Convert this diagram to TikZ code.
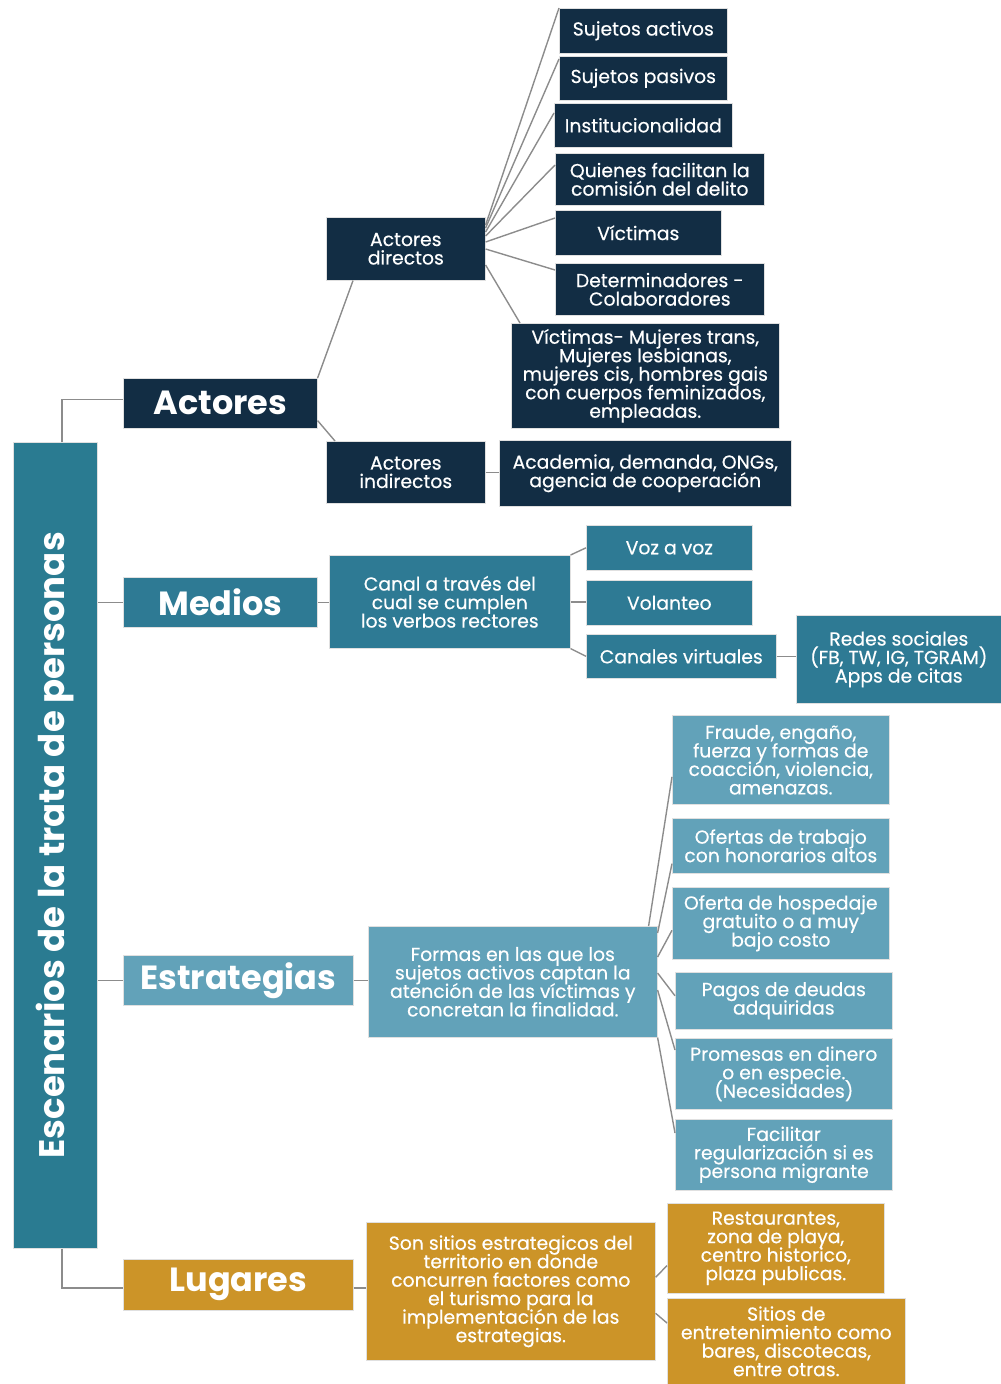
\documentclass[tikz,border=0pt]{standalone}
\usepackage{fontspec}
\setmainfont{Poppins}
\newfontfamily\medfont{Poppins}[FakeBold=0.4]
\usetikzlibrary{calc}
\definecolor{navy}{HTML}{122D44}
\definecolor{tealbar}{HTML}{2A7B91}
\definecolor{tealm}{HTML}{2E7A94}
\definecolor{lteal}{HTML}{62A2B9}
\definecolor{gold}{HTML}{CC9428}
\definecolor{lnc}{HTML}{8C8C8C}
\newcommand{\fsn}{\medfont\fontsize{18.8}{18.5}\selectfont\lineskiplimit=-30pt\lineskip=0pt}
\newcommand{\fsb}{\fontsize{33.5}{36}\selectfont\bfseries}
\begin{document}
\begin{tikzpicture}[x=1pt,y=-1pt,
  bx/.style={fill=#1, draw=black!12, line width=0.6pt, inner sep=0pt, anchor=north west, align=center, text=white, font=\fsn},
  big/.style={bx=#1, font=\fsb},
  ln/.style={draw=lnc, line width=1.4pt}]
\useasboundingbox (0,0) rectangle (1001,1384);

% main bar
\node[bx=tealbar, minimum width=84, minimum height=806] (bar) at (13,442) {};
\node[rotate=90, text=white, font=\fontsize{35.5}{38}\selectfont\bfseries, inner sep=0pt] (title) at (bar.center) {Escenarios de la trata de personas};

% Actores
\node[big=navy, minimum width=194, minimum height=50] (act) at (123,378) {Actores};
\node[bx=navy, minimum width=159, minimum height=63] (dir) at (326,217) {Actores\\directos};
\node[bx=navy, minimum width=159, minimum height=62] (ind) at (326,441) {Actores\\indirectos};
\node[bx=navy, minimum width=168, minimum height=45] (s1) at (559,8) {Sujetos activos};
\node[bx=navy, minimum width=168, minimum height=44] (s2) at (559,56) {Sujetos pasivos};
\node[bx=navy, minimum width=178, minimum height=44] (s3) at (554,103) {Institucionalidad};
\node[bx=navy, minimum width=209, minimum height=52] (s4) at (555,153) {Quienes facilitan la\\comisión del delito};
\node[bx=navy, minimum width=166, minimum height=45] (s5) at (555,210) {Víctimas};
\node[bx=navy, minimum width=209, minimum height=52] (s6) at (555,263) {Determinadores -\\Colaboradores};
\node[bx=navy, minimum width=268, minimum height=105] (s7) at (511,323) {Víctimas- Mujeres trans,\\Mujeres lesbianas,\\mujeres cis, hombres gais\\con cuerpos feminizados,\\empleadas.};
\node[bx=navy, minimum width=292, minimum height=66] (aca) at (499,440) {Academia, demanda, ONGs,\\agencia de cooperación};

\draw[ln] ($(bar.north west)+(49,0)$) |- ($(act.west)+(0,-4)$);
\draw[ln] (act.north east) -- ($(dir.south west)+(27,0)$);
\draw[ln] ($(act.south east)+(0,-8)$) -- ($(ind.north west)+(9,0)$);
\draw[ln] ($(dir.north east)+(0,8)$) -- (s1.north west);
\draw[ln] ($(dir.north east)+(0,11)$) -- ($(s2.north west)+(0,3)$);
\draw[ln] ($(dir.north east)+(0,15)$) -- ($(s3.north west)+(0,10)$);
\draw[ln] ($(dir.north east)+(0,19)$) -- ($(s4.north west)+(0,12)$);
\draw[ln] ($(dir.north east)+(0,25)$) -- ($(s5.north west)+(0,8)$);
\draw[ln] ($(dir.north east)+(0,32)$) -- ($(s6.north west)+(0,7)$);
\draw[ln] ($(dir.north east)+(0,48)$) -- ($(s7.north west)+(9,0)$);
\draw[ln] (ind.east) -- (ind.east -| aca.west);

% Medios
\node[big=tealm, minimum width=194, minimum height=50] (med) at (123,577) {Medios};
\node[bx=tealm, minimum width=241, minimum height=93] (canal) at (329,555) {Canal a través del\\cual se cumplen\\los verbos rectores};
\node[bx=tealm, minimum width=166, minimum height=45] (voz) at (586,525) {Voz a voz};
\node[bx=tealm, minimum width=166, minimum height=45] (vol) at (586,580) {Volanteo};
\node[bx=tealm, minimum width=190, minimum height=44] (cv) at (586,634) {Canales virtuales};
\node[bx=tealm, minimum width=205, minimum height=88] (red) at (796,615) {Redes sociales\\(FB, TW, IG, TGRAM)\\Apps de citas};

\draw[ln] (med.west -| bar.east) -- (med.west);
\draw[ln] (med.east) -- (med.east -| canal.west);
\draw[ln] (canal.north east) -- (voz.west);
\draw[ln] (canal.east) -- (canal.east -| vol.west);
\draw[ln] (canal.south east) -- (cv.west);
\draw[ln] (cv.east) -- (cv.east -| red.west);

% Estrategias
\node[big=lteal, minimum width=230, minimum height=50] (est) at (123,955) {Estrategias};
\node[bx=lteal, minimum width=289, minimum height=111] (formas) at (368,926) {Formas en las que los\\sujetos activos captan la\\atención de las víctimas y\\concretan la finalidad.};
\node[bx=lteal, minimum width=217, minimum height=89] (f1) at (672,715) {Fraude, engaño,\\fuerza y formas de\\coacción, violencia,\\amenazas.};
\node[bx=lteal, minimum width=217, minimum height=55] (f2) at (672,818) {Ofertas de trabajo\\con honorarios altos};
\node[bx=lteal, minimum width=217, minimum height=72] (f3) at (672,887) {Oferta de hospedaje\\gratuito o a muy\\bajo costo};
\node[bx=lteal, minimum width=217, minimum height=57] (f4) at (675,972) {Pagos de deudas\\adquiridas};
\node[bx=lteal, minimum width=217, minimum height=71] (f5) at (675,1038) {Promesas en dinero\\o en especie.\\(Necesidades)};
\node[bx=lteal, minimum width=217, minimum height=71] (f6) at (675,1119) {Facilitar\\regularización si es\\persona migrante};

\draw[ln] (est.west -| bar.east) -- (est.west);
\draw[ln] (est.east) -- (est.east -| formas.west);
\draw[ln] ($(formas.north east)+(-9,0)$) -- ($(f1.west)+(0,17)$);
\draw[ln] ($(formas.north east)+(0,7)$) -- ($(f2.south west)+(0,-10)$);
\draw[ln] ($(formas.north east)+(0,31)$) -- ($(f3.west)+(0,7)$);
\draw[ln] ($(formas.north east)+(0,47)$) -- ($(f4.west)+(0,-5)$);
\draw[ln] ($(formas.north east)+(0,64)$) -- ($(f5.north west)+(0,12)$);
\draw[ln] (formas.south east) -- ($(f6.north west)+(0,14)$);

% Lugares
\node[big=gold, minimum width=230, minimum height=51] (lug) at (123,1259) {Lugares};
\node[bx=gold, minimum width=289, minimum height=138] (son) at (366,1222) {Son sitios estrategicos del\\territorio en donde\\concurren factores como\\el turismo para la\\implementación de las\\estrategias.};
\node[bx=gold, minimum width=217, minimum height=90] (r1) at (667,1203) {Restaurantes,\\zona de playa,\\centro historico,\\plaza publicas.};
\node[bx=gold, minimum width=238, minimum height=86] (r2) at (667,1298) {Sitios de\\entretenimiento como\\bares, discotecas,\\entre otras.};

\draw[ln] ($(bar.south west)+(49,0)$) |- ($(lug.west)+(0,3)$);
\draw[ln] ($(lug.east)+(0,3)$) -- ($(lug.east -| son.west)+(0,3)$);
\draw[ln] ($(son.east)+(0,-14)$) -- ($(r1.south west)+(0,-28)$);
\draw[ln] ($(son.east)+(0,22)$) -- ($(r2.north west)+(0,25)$);
\end{tikzpicture}
\end{document}
